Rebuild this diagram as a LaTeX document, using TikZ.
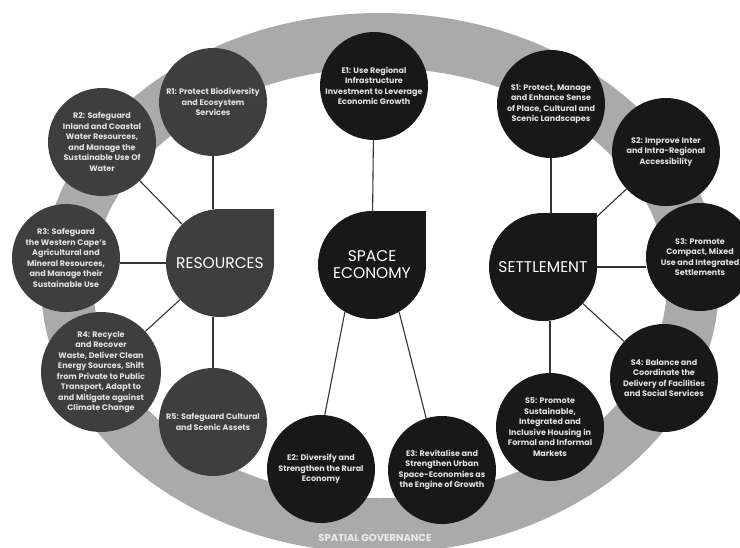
\documentclass[tikz,border=0pt]{standalone}
\usepackage{fontspec}
\setmainfont{Poppins}
\definecolor{ringgray}{RGB}{170,170,170}
\definecolor{resgray}{RGB}{62,62,62}
\definecolor{darkfill}{RGB}{24,24,24}
\definecolor{goaltext}{RGB}{226,226,226}
\pgfdeclarelayer{paper}
\pgfdeclarelayer{ring}
\pgfdeclarelayer{lines}
\pgfsetlayers{paper,ring,lines,main}
\tikzset{
  goal/.style={circle,minimum size=108pt,inner sep=0pt,align=center,
    text=goaltext,font=\bfseries\fontsize{8}{10.5}\selectfont},
  resgoal/.style={goal,fill=resgray},
  darkgoal/.style={goal,fill=darkfill},
  hub/.style={circle,minimum size=108pt,inner sep=0pt,align=center,
    text=white,font=\fontsize{15.5}{17}\selectfont},
  link/.style={draw=black!80,line width=1.1pt}
}

\begin{document}
\begin{tikzpicture}[x=1pt,y=-1pt]
                \useasboundingbox (0,0) rectangle (740,547);
                \begin{pgfonlayer}{paper}
                \fill[white] (0,0) rectangle (740,547);
                \end{pgfonlayer}
                % spatial governance ring
                \begin{pgfonlayer}{ring}
                \fill[ringgray,even odd rule] (380,283) ellipse[x radius=339pt,y radius=270pt]
                    (380,283) ellipse[x radius=287pt,y radius=215pt];
                \end{pgfonlayer}
                \node[text=black!8,font=\bfseries\fontsize{10}{12}\selectfont] (gov) at(375,538) {SPATIAL GOVERNANCE};
                % resources goals
                \node[resgoal] (r1) at(213,102) {R1: Protect Biodiversity\\and Ecosystem\\Services};
                \node[resgoal] (r2) at(102,142) {R2: Safeguard\\Inland and Coastal\\Water Resources,\\and Manage the\\Sustainable Use Of\\Water};
                \node[resgoal] (r3) at(66,258) {R3: Safeguard\\the Western Cape's\\Agricultural and\\Mineral Resources,\\and Manage their\\Sustainable Use};
                \node[resgoal] (r4) at(101,372) {R4: Recycle\\and Recover\\Waste, Deliver Clean\\Energy Sources, Shift\\from Private to Public\\Transport, Adapt to\\and Mitigate against\\Climate Change};
                \node[resgoal] (r5) at(213,422) {R5: Safeguard Cultural\\and Scenic Assets};
                % space economy goals
                \node[darkgoal] (e1) at(374,86) {E1: Use Regional\\Infrastructure\\Investment to Leverage\\Economic Growth};
                \node[darkgoal] (e2) at(321,469) {E2: Diversify and\\Strengthen the Rural\\Economy};
                \node[darkgoal] (e3) at(442,470) {E3: Revitalise and\\Strengthen Urban\\Space-Economies as\\the Engine of Growth};
                % settlement goals
                \node[darkgoal] (s1) at(551,104) {S1: Protect, Manage\\and Enhance Sense\\of Place, Cultural and\\Scenic Landscapes};
                \node[darkgoal] (s2) at(666,152) {S2: Improve Inter\\and Intra-Regional\\Accessibility};
                \node[darkgoal] (s3) at(700,257) {S3: Promote\\Compact, Mixed\\Use and Integrated\\Settlements};
                \node[darkgoal] (s4) at(664,378) {S4: Balance and\\Coordinate the\\Delivery of Facilities\\and Social Services};
                \node[darkgoal] (s5) at(550,427) {S5: Promote\\Sustainable,\\Integrated and\\Inclusive Housing in\\Formal and Informal\\Markets};
                % hubs
                \node[hub,fill=resgray] (res) at(220,263) {RESOURCES};
                \node[hub,fill=darkfill] (econ) at(372,265) {SPACE\\ECONOMY};
                \node[hub,fill=darkfill] (sett) at(543,267) {SETTLEMENT};
                \begin{pgfonlayer}{lines}
                \draw[link] (r1.south) -- (r1.south |- res.north);
                \draw[link] (res) -- (r2);
                \draw[link] (res.west) -- (res.west -| r3.east);
                \draw[link] (res) -- (r4);
                \draw[link] (r5.north) -- (r5.north |- res.south);
                \draw[link] (e1) -- (econ);
                \draw[link] (econ.240) -- (e2.86);
                \draw[link] (econ.300) -- (e3.107);
                \draw[link] (s1.south) -- (s1.south |- sett.north);
                \draw[link] (sett) -- (s2);
                \draw[link] (sett.east) -- (sett.east -| s3.west);
                \draw[link] (sett) -- (s4);
                \draw[link] (s5.north) -- (s5.north |- sett.south);
                % square corners of the hubs
                \fill[resgray] (res.center) rectangle (res.north -| res.east);
                \fill[darkfill] (econ.center) rectangle (econ.north -| econ.east);
                \fill[darkfill] (sett.center) rectangle (sett.north -| sett.east);
                \end{pgfonlayer}
            \end{tikzpicture}
\end{document}
